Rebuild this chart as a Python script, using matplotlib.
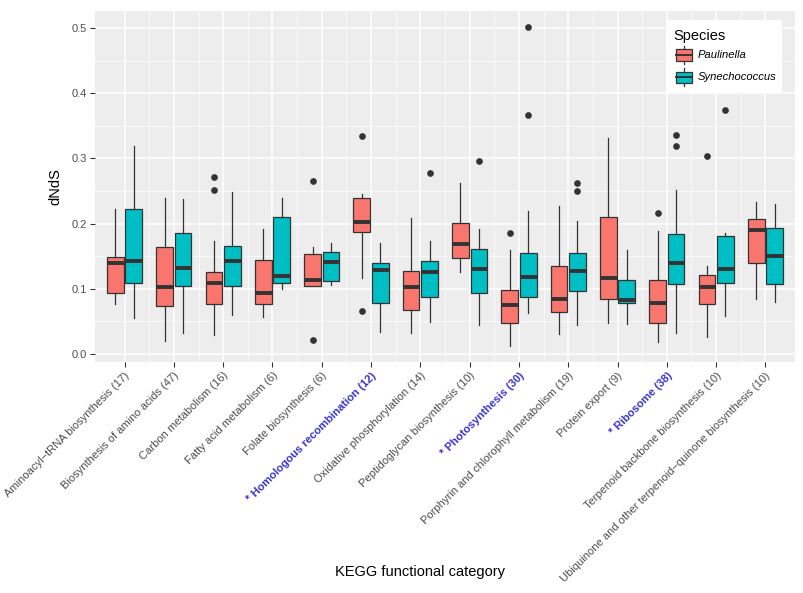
import matplotlib
matplotlib.use("Agg")
import matplotlib.pyplot as plt
import numpy as np
from matplotlib.patches import Rectangle
from matplotlib.lines import Line2D

plt.rcParams['font.family'] = ['Liberation Sans', 'DejaVu Sans']

categories = [
    "Aminoacyl\u2212tRNA biosynthesis (17)",
    "Biosynthesis of amino acids (47)",
    "Carbon metabolism (16)",
    "Fatty acid metabolism (6)",
    "Folate biosynthesis (6)",
    "* Homologous recombination (12)",
    "Oxidative phosphorylation (14)",
    "Peptidoglycan biosynthesis (10)",
    "* Photosynthesis (30)",
    "Porphyrin and chlorophyll metabolism (19)",
    "Protein export (9)",
    "* Ribosome (38)",
    "Terpenoid backbone biosynthesis (10)",
    "Ubiquinone and other terpenoid\u2212quinone biosynthesis (10)",
]
highlighted = [5, 8, 11]

species = ["Paulinella", "Synechococcus"]

# Paulinella box statistics
paul_whislo = [0.076, 0.019, 0.029, 0.056, 0.104, 0.117, 0.032, 0.125, 0.012, 0.031, 0.047, 0.018, 0.026, 0.084]
paul_q1     = [0.093, 0.074, 0.077, 0.077, 0.104, 0.187, 0.068, 0.147, 0.047, 0.064, 0.084, 0.048, 0.076, 0.140]
paul_med    = [0.139, 0.103, 0.109, 0.093, 0.114, 0.202, 0.103, 0.168, 0.075, 0.085, 0.116, 0.078, 0.102, 0.190]
paul_q3     = [0.148, 0.164, 0.125, 0.144, 0.154, 0.240, 0.127, 0.201, 0.098, 0.135, 0.210, 0.114, 0.121, 0.207]
paul_whishi = [0.222, 0.240, 0.174, 0.191, 0.164, 0.245, 0.209, 0.263, 0.160, 0.227, 0.331, 0.189, 0.135, 0.233]
paul_out = [[], [], [0.271, 0.251], [], [0.265, 0.021], [0.335, 0.066], [], [], [0.186], [], [], [0.216], [0.304], []]

# Synechococcus box statistics
syn_whislo = [0.055, 0.032, 0.060, 0.099, 0.105, 0.034, 0.049, 0.045, 0.062, 0.045, 0.046, 0.032, 0.058, 0.079]
syn_q1     = [0.109, 0.104, 0.104, 0.109, 0.112, 0.078, 0.088, 0.094, 0.088, 0.097, 0.078, 0.107, 0.109, 0.107]
syn_med    = [0.143, 0.132, 0.143, 0.119, 0.141, 0.129, 0.125, 0.130, 0.118, 0.127, 0.083, 0.139, 0.131, 0.151]
syn_q3     = [0.223, 0.186, 0.165, 0.210, 0.157, 0.139, 0.142, 0.161, 0.155, 0.155, 0.114, 0.184, 0.181, 0.194]
syn_whishi = [0.319, 0.238, 0.249, 0.240, 0.171, 0.171, 0.174, 0.192, 0.220, 0.204, 0.159, 0.251, 0.186, 0.230]
syn_out = [[], [], [], [], [], [], [0.278], [0.296], [0.502, 0.367], [0.262, 0.250], [], [0.336, 0.319], [0.374], []]

colors = ["#F8766D", "#00BFC4"]
dark = "#333333"

W, H = 804, 593
fig = plt.figure(figsize=(W / 100, H / 100), dpi=100)
ax = fig.add_axes([95 / W, 1 - 362 / H, 700 / W, 351 / H])
ax.set_facecolor("#EDEDED")

def make_stats(wl, q1, md, q3, wh, out):
    return [dict(whislo=a, q1=b, med=c, q3=d, whishi=e, fliers=f)
            for a, b, c, d, e, f in zip(wl, q1, md, q3, wh, out)]

x = np.arange(1, len(categories) + 1)
sets = [make_stats(paul_whislo, paul_q1, paul_med, paul_q3, paul_whishi, paul_out),
        make_stats(syn_whislo, syn_q1, syn_med, syn_q3, syn_whishi, syn_out)]
offsets = [-0.1875, 0.1875]
for stats, off, col in zip(sets, offsets, colors):
    ax.bxp(stats, positions=x + off, widths=0.34, patch_artist=True,
           showcaps=False, manage_ticks=False,
           boxprops=dict(facecolor=col, edgecolor=dark, linewidth=0.9),
           medianprops=dict(color=dark, linewidth=2.8, solid_capstyle='butt'),
           whiskerprops=dict(color=dark, linewidth=0.9),
           flierprops=dict(marker='o', markerfacecolor=dark, markeredgecolor=dark,
                           markersize=3.8, linestyle='none'))

ax.set_xlim(0.4, 14.6)
ax.set_ylim(-0.0125, 0.5265)
yt = [0.0, 0.1, 0.2, 0.3, 0.4, 0.5]
ax.set_yticks(yt)
ax.set_yticklabels([f"{v:.1f}" for v in yt])
ax.set_yticks(np.arange(0.05, 0.55, 0.1), minor=True)
ax.set_xticks(x)
ax.set_xticks(np.arange(1.5, 14.5, 1.0), minor=True)
ax.grid(True, which='major', color='white', linewidth=1.1)
ax.grid(True, which='minor', color='white', linewidth=0.5)
ax.set_axisbelow(True)
for s in ax.spines.values():
    s.set_visible(False)
ax.tick_params(which='major', length=3.5, color='#333333', labelsize=8, labelcolor='#4D4D4D', pad=2.5)
ax.tick_params(which='minor', length=0)
ax.set_xticklabels(categories, rotation=45, ha='right', va='top', rotation_mode='anchor')
for i, lab in enumerate(ax.get_xticklabels()):
    if i in highlighted:
        lab.set_color('#3A33CC')
        lab.set_fontweight('bold')

ax.set_ylabel("dNdS", fontsize=10.5, color='black')
ax.yaxis.set_label_coords((62 - 95) / 700, 0.5)
fig.text(420 / W, 1 - 572 / H, "KEGG functional category", ha='center', va='center', fontsize=10.5)

# Legend drawn in figure pixel coordinates (inside the panel, top right)
def px(xp, yp):
    return (xp / W, 1 - yp / H)

lx0, ly0, lx1, ly1 = 666, 20, 782, 93
fig.patches.append(Rectangle(px(lx0, ly1), (lx1 - lx0) / W, (ly1 - ly0) / H,
                             transform=fig.transFigure, facecolor='white', edgecolor='none', zorder=5))
fig.text(*px(673, 36), "Species", ha='left', va='center', fontsize=10.5, zorder=6)
for sp, col, yc in zip(species, colors, [55, 77]):
    kx0, kx1 = 676, 692
    kc = (kx0 + kx1) / 2
    fig.add_artist(Line2D([kc / W, kc / W], [1 - (yc - 9) / H, 1 - (yc + 9) / H],
                          transform=fig.transFigure, color=dark, lw=0.9, zorder=6))
    fig.patches.append(Rectangle(px(kx0, yc + 5.5), (kx1 - kx0) / W, 11 / H,
                                 transform=fig.transFigure, facecolor=col, edgecolor=dark,
                                 lw=0.9, zorder=7))
    fig.add_artist(Line2D([kx0 / W, kx1 / W], [1 - yc / H, 1 - yc / H],
                          transform=fig.transFigure, color=dark, lw=1.4, zorder=8))
    fig.text(*px(698, yc), sp, ha='left', va='center', fontsize=8.1, style='italic', zorder=8)

fig.savefig("out.png", dpi=100)
